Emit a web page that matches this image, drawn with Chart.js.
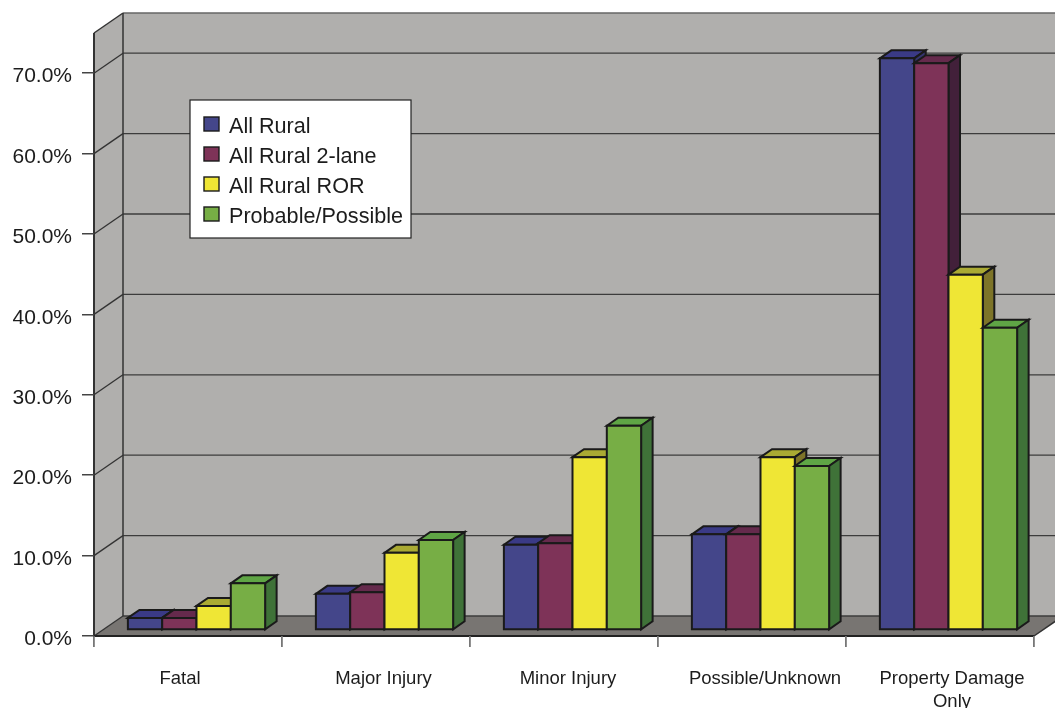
<!DOCTYPE html>
<html>
<head>
<meta charset="utf-8">
<style>html,body{margin:0;padding:0;background:#fff}canvas{display:block}</style>
<script src="https://cdn.jsdelivr.net/npm/chart.js@4/dist/chart.umd.min.js"></script>
</head>
<body>
<canvas id="c" width="1055" height="708"></canvas>
<script>
// Crash severity shares, drawn as 3D clustered columns.
const categories = ['Fatal', 'Major Injury', 'Minor Injury', 'Possible/Unknown', ['Property Damage', 'Only']];
const allRural = [1.5, 4.5, 10.6, 11.9, 71.1];
const allRural2Lane = [1.5, 4.7, 10.8, 11.9, 70.5];
const allRuralRor = [3.0, 9.6, 21.5, 21.5, 44.2];
const probablePossible = [5.8, 11.2, 25.4, 20.4, 37.6];

const seriesNames = ['All Rural', 'All Rural 2-lane', 'All Rural ROR', 'Probable/Possible'];
const frontColors = ['#44468a', '#7e3358', '#efe635', '#77ae45'];
const topColors = ['#3a3a86', '#652a4c', '#aaaa33', '#5fa545'];
const sideColors = ['#35356f', '#42203a', '#7d7428', '#3f7238'];

// Oblique projection of the chart box and of the columns inside it.
const WALL = { dx: 29, dy: -20 };
const BAR_OFFSET = { dx: 8.5, dy: -6 };
const BAR_DEPTH = { dx: 11.5, dy: -8 };
const LINE = '#1a1a1a';
const TEXT = '#1c1c1c';
const FONT = '"Liberation Sans", Arial, sans-serif';

// Per-label adjustments of the category captions along the axis.
const captionNudge = [-8, 7.5, 4, 13, 12];

function poly(ctx, pts, fill, stroke, width) {
  ctx.beginPath();
  pts.forEach((p, i) => i ? ctx.lineTo(p[0], p[1]) : ctx.moveTo(p[0], p[1]));
  ctx.closePath();
  if (fill) { ctx.fillStyle = fill; ctx.fill(); }
  if (stroke) { ctx.strokeStyle = stroke; ctx.lineWidth = width; ctx.lineJoin = 'miter'; ctx.stroke(); }
}

function segment(ctx, x1, y1, x2, y2, color, width) {
  ctx.beginPath();
  ctx.moveTo(x1, y1);
  ctx.lineTo(x2, y2);
  ctx.strokeStyle = color;
  ctx.lineWidth = width;
  ctx.stroke();
}

const box3d = {
  id: 'box3d',
  beforeDraw(chart) {
    const { ctx, chartArea: a, scales: { x, y } } = chart;
    const { dx, dy } = WALL;
    ctx.save();
    // Back wall, side wall, floor
    poly(ctx, [[a.left + dx, a.top + dy], [a.right + dx, a.top + dy], [a.right + dx, a.bottom + dy], [a.left + dx, a.bottom + dy]], '#b0afad');
    poly(ctx, [[a.left, a.top], [a.left + dx, a.top + dy], [a.left + dx, a.bottom + dy], [a.left, a.bottom]], '#b0afad');
    poly(ctx, [[a.left, a.bottom], [a.left + dx, a.bottom + dy], [a.right + dx, a.bottom + dy], [a.right, a.bottom]], '#787572');
    // Gridlines run along the back wall and fold onto the side wall
    y.ticks.forEach(t => {
      const py = y.getPixelForValue(t.value);
      segment(ctx, a.left, py, a.left + dx, py + dy, '#333', 1.3);
      segment(ctx, a.left + dx, py + dy, a.right + dx, py + dy, '#3c3c3c', 1.3);
    });
    // Box edges
    segment(ctx, a.left + dx, a.top + dy, a.right + dx, a.top + dy, '#666', 1.5);
    segment(ctx, a.left, a.top, a.left + dx, a.top + dy, '#333', 1.5);
    segment(ctx, a.left + dx, a.top + dy, a.left + dx, a.bottom + dy, '#333', 1.5);
    segment(ctx, a.left, a.top, a.left, a.bottom, '#333', 2);
    segment(ctx, a.left, a.bottom, a.right, a.bottom, '#222', 2);
    segment(ctx, a.right, a.bottom, a.right + dx, a.bottom + dy, '#333', 1.5);
    ctx.restore();

    // Shift the axis captions off their default anchors
    x.getLabelItems().forEach((item, i) => { item.options.translation[0] += captionNudge[i]; });
    y.getLabelItems().forEach(item => { item.options.translation[1] += 3.5; });
  },
  beforeDatasetsDraw(chart) {
    const { ctx } = chart;
    ctx.save();
    // Painted left to right so each column hides its neighbour's side face
    chart.data.datasets.forEach((ds, d) => {
      chart.getDatasetMeta(d).data.forEach(el => {
        const { x, y, base, width } = el.getProps(['x', 'y', 'base', 'width'], true);
        const l = x - width / 2 + BAR_OFFSET.dx, r = x + width / 2 + BAR_OFFSET.dx;
        const t = y + BAR_OFFSET.dy, b = base + BAR_OFFSET.dy;
        const ddx = BAR_DEPTH.dx, ddy = BAR_DEPTH.dy;
        poly(ctx, [[l, t], [l + ddx, t + ddy], [r + ddx, t + ddy], [r, t]], topColors[d], LINE, 2);
        poly(ctx, [[r, t], [r + ddx, t + ddy], [r + ddx, b + ddy], [r, b]], sideColors[d], LINE, 2);
        poly(ctx, [[l, t], [r, t], [r, b], [l, b]], ds.backgroundColor, LINE, 2);
      });
    });
    ctx.restore();
    // The columns are fully painted above, so the stock bar pass is skipped
    return false;
  },
  afterDraw(chart) {
    const { ctx } = chart;
    const datasets = chart.data.datasets;
    const lx = 190, ly = 100, lw = 221, lh = 138;
    ctx.save();
    ctx.fillStyle = '#fff';
    ctx.fillRect(lx, ly, lw, lh);
    ctx.strokeStyle = '#222';
    ctx.lineWidth = 1.2;
    ctx.strokeRect(lx, ly, lw, lh);
    ctx.font = '21.6px ' + FONT;
    ctx.textAlign = 'left';
    ctx.textBaseline = 'middle';
    datasets.forEach((ds, i) => {
      const cy = ly + 24 + i * 30;
      ctx.fillStyle = ds.backgroundColor;
      ctx.fillRect(lx + 14, cy - 7, 15, 14);
      ctx.strokeStyle = LINE;
      ctx.lineWidth = 1.4;
      ctx.strokeRect(lx + 14, cy - 7, 15, 14);
      ctx.fillStyle = TEXT;
      ctx.fillText(ds.label, lx + 39, cy + 3);
    });
    ctx.restore();
  }
};

const seriesValues = [allRural, allRural2Lane, allRuralRor, probablePossible];

new Chart(document.getElementById('c'), {
  type: 'bar',
  data: {
    labels: categories,
    datasets: seriesValues.map((values, i) => ({
      label: seriesNames[i],
      data: values,
      backgroundColor: frontColors[i]
    }))
  },
  options: {
    responsive: false,
    animation: false,
    events: [],
    layout: { padding: { top: 33, right: 21, left: 0, bottom: 0 } },
    categoryPercentage: 0.73,
    barPercentage: 1,
    plugins: { legend: { display: false }, tooltip: { enabled: false }, title: { display: false } },
    scales: {
      x: {
        afterFit(scale) { scale.height = 72; },
        border: { display: false },
        grid: { drawOnChartArea: false, color: '#777', lineWidth: 1.8, tickLength: 11 },
        ticks: { color: TEXT, font: { family: FONT, size: 18.5, lineHeight: 1.25 }, padding: 20, maxRotation: 0, autoSkip: false }
      },
      y: {
        min: 0,
        max: 75,
        afterFit(scale) { scale.width = 94; },
        border: { display: false },
        grid: { drawOnChartArea: false, color: '#444', lineWidth: 1.5, tickLength: 12 },
        ticks: {
          stepSize: 10,
          includeBounds: false,
          color: TEXT,
          padding: 10,
          font: { family: FONT, size: 21 },
          callback: v => v.toFixed(1) + '%'
        }
      }
    }
  },
  plugins: [box3d]
});
</script>
</body>
</html>
